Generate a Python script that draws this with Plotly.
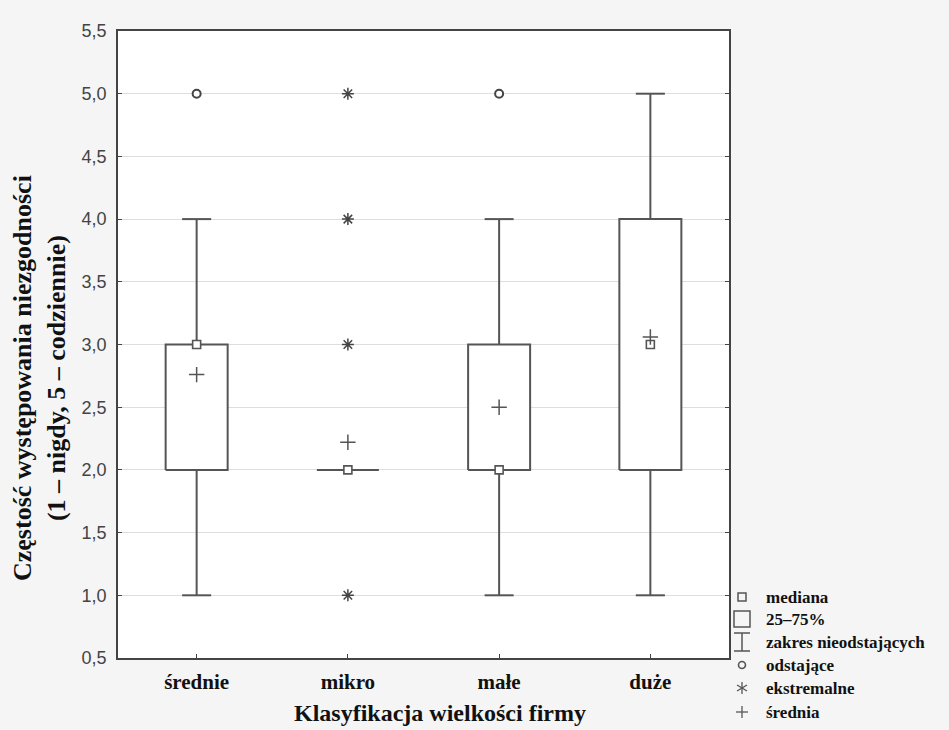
import plotly.graph_objects as go

categories = ["średnie", "mikro", "małe", "duże"]
q1 = [2.0, 2.0, 2.0, 2.0]
q3 = [3.0, 2.0, 3.0, 4.0]
medians = [3.0, 2.0, 2.0, 3.0]
means = [2.76, 2.22, 2.50, 3.06]
whisk_low = [1.0, 2.0, 1.0, 1.0]
whisk_high = [4.0, 2.0, 4.0, 5.0]
outlier_cat = [0, 2]
outlier_val = [5.0, 5.0]
extreme_cat = [1, 1, 1, 1]
extreme_val = [1.0, 3.0, 4.0, 5.0]

legend_labels = ["mediana", "25–75%", "zakres nieodstających", "odstające", "ekstremalne", "średnia"]

C = "#555555"
BW = 0.205   # half box width (data units)
CW = 0.096   # half cap width

fig = go.Figure()

# boxes
bx, by = [], []
for i in range(len(categories)):
    bx += [i - BW, i + BW, i + BW, i - BW, i - BW, None]
    by += [q1[i], q1[i], q3[i], q3[i], q1[i], None]
fig.add_trace(go.Scatter(x=bx, y=by, mode="lines", line=dict(color=C, width=2),
                         fill="toself", fillcolor="white", hoverinfo="skip", showlegend=False))

# whiskers
wx, wy = [], []
for i in range(len(categories)):
    if whisk_high[i] > q3[i]:
        wx += [i, i, None, i - CW, i + CW, None]
        wy += [q3[i], whisk_high[i], None, whisk_high[i], whisk_high[i], None]
    if whisk_low[i] < q1[i]:
        wx += [i, i, None, i - CW, i + CW, None]
        wy += [q1[i], whisk_low[i], None, whisk_low[i], whisk_low[i], None]
fig.add_trace(go.Scatter(x=wx, y=wy, mode="lines", line=dict(color=C, width=2),
                         hoverinfo="skip", showlegend=False))

# medians
fig.add_trace(go.Scatter(x=list(range(4)), y=medians, mode="markers",
                         marker=dict(symbol="square", size=8, color="white",
                                     line=dict(color=C, width=1.6)), showlegend=False))
# means
fig.add_trace(go.Scatter(x=list(range(4)), y=means, mode="markers",
                         marker=dict(symbol="cross-thin-open", size=11, color=C,
                                     line=dict(color=C, width=1.5)), showlegend=False))
# outliers
fig.add_trace(go.Scatter(x=outlier_cat, y=outlier_val, mode="markers",
                         marker=dict(symbol="circle", size=8, color="white",
                                     line=dict(color="#444", width=2)), showlegend=False))
# extremes
fig.add_trace(go.Scatter(x=extreme_cat, y=extreme_val, mode="markers",
                         marker=dict(symbol="asterisk-open", size=10, color="#444",
                                     line=dict(color="#444", width=1.5)), showlegend=False))

W, H = 949, 730
L, R, T, B = 118, 220, 31, 72
PW, PH = W - L - R, H - T - B

def px(x):
    return (x - L) / PW

def py(y):
    return 1 - (y - T) / PH

# legend drawn in paper coordinates
ys = [597, 619, 642, 665, 688, 712]
mx = 742
tx = 764
shapes = []
annotations = []
for lab, yy in zip(legend_labels, ys):
    annotations.append(dict(x=px(tx), y=py(yy), xref="paper", yref="paper", text="<b>" + lab + "</b>",
                            showarrow=False, xanchor="left", yanchor="middle",
                            font=dict(family="Liberation Serif", size=17, color="#111")))
# mediana
shapes.append(dict(type="rect", xref="paper", yref="paper", x0=px(mx - 4), x1=px(mx + 4),
                   y0=py(ys[0] + 4), y1=py(ys[0] - 4), line=dict(color=C, width=1.5)))
# 25-75
shapes.append(dict(type="rect", xref="paper", yref="paper", x0=px(mx - 8), x1=px(mx + 8),
                   y0=py(ys[1] + 8), y1=py(ys[1] - 8), line=dict(color=C, width=1.5)))
# zakres
yz = ys[2]
shapes.append(dict(type="line", xref="paper", yref="paper", x0=px(mx), x1=px(mx),
                   y0=py(yz - 9), y1=py(yz + 9), line=dict(color=C, width=1.5)))
shapes.append(dict(type="line", xref="paper", yref="paper", x0=px(mx - 8), x1=px(mx + 8),
                   y0=py(yz - 9), y1=py(yz - 9), line=dict(color=C, width=1.5)))
shapes.append(dict(type="line", xref="paper", yref="paper", x0=px(mx - 8), x1=px(mx + 8),
                   y0=py(yz + 9), y1=py(yz + 9), line=dict(color=C, width=1.5)))
# odstajace
shapes.append(dict(type="circle", xref="paper", yref="paper", x0=px(mx - 3.5), x1=px(mx + 3.5),
                   y0=py(ys[3] + 3.5), y1=py(ys[3] - 3.5), line=dict(color=C, width=1.6)))
# ekstremalne
ye = ys[4]
for dx0, dy0, dx1, dy1 in [(0, -6, 0, 6), (-5, -3, 5, 3), (-5, 3, 5, -3)]:
    shapes.append(dict(type="line", xref="paper", yref="paper", x0=px(mx + dx0), x1=px(mx + dx1),
                       y0=py(ye + dy0), y1=py(ye + dy1), line=dict(color=C, width=1.3)))
# srednia
ym = ys[5]
shapes.append(dict(type="line", xref="paper", yref="paper", x0=px(mx - 6), x1=px(mx + 6),
                   y0=py(ym), y1=py(ym), line=dict(color=C, width=1.3)))
shapes.append(dict(type="line", xref="paper", yref="paper", x0=px(mx), x1=px(mx),
                   y0=py(ym - 6), y1=py(ym + 6), line=dict(color=C, width=1.3)))

# axis titles
annotations.append(dict(x=px(440), y=py(713), xref="paper", yref="paper",
                        text="<b>Klasyfikacja wielkości firmy</b>", showarrow=False,
                        xanchor="center", yanchor="middle",
                        font=dict(family="Liberation Serif", size=24, color="#111")))
annotations.append(dict(x=px(39), y=py(378), xref="paper", yref="paper",
                        text="<b>Częstość występowania niezgodności<br>(1 – nigdy, 5 – codziennie)</b>",
                        showarrow=False, textangle=-90, xanchor="center", yanchor="middle",
                        font=dict(family="Liberation Serif", size=26, color="#111")))

fig.update_layout(
    width=W, height=H,
    margin=dict(l=L, r=R, t=T, b=B),
    paper_bgcolor="#f5f5f5",
    plot_bgcolor="white",
    separators=", ",
    shapes=shapes,
    annotations=annotations,
    showlegend=False,
    xaxis=dict(range=[-0.52, 3.52], tickmode="array", tickvals=list(range(4)),
               ticktext=["<b>" + c + "</b>" for c in categories], showgrid=False, zeroline=False,
               showline=True, linecolor="#444", linewidth=1.5, mirror=True,
               ticks="inside", ticklen=4, tickcolor="#444", ticklabelstandoff=4,
               tickfont=dict(family="Liberation Serif", size=21, color="#111")),
    yaxis=dict(range=[0.5, 5.5], dtick=0.5, tick0=0.5, tickformat=".1f",
               showgrid=True, gridcolor="#dedede", gridwidth=1.3, zeroline=False,
               showline=True, linecolor="#444", linewidth=1.5, mirror="ticks",
               ticks="inside", ticklen=4, tickcolor="#444", ticklabelstandoff=6,
               tickfont=dict(family="Liberation Sans", size=18, color="#444")),
)

fig.write_html("out.html")
